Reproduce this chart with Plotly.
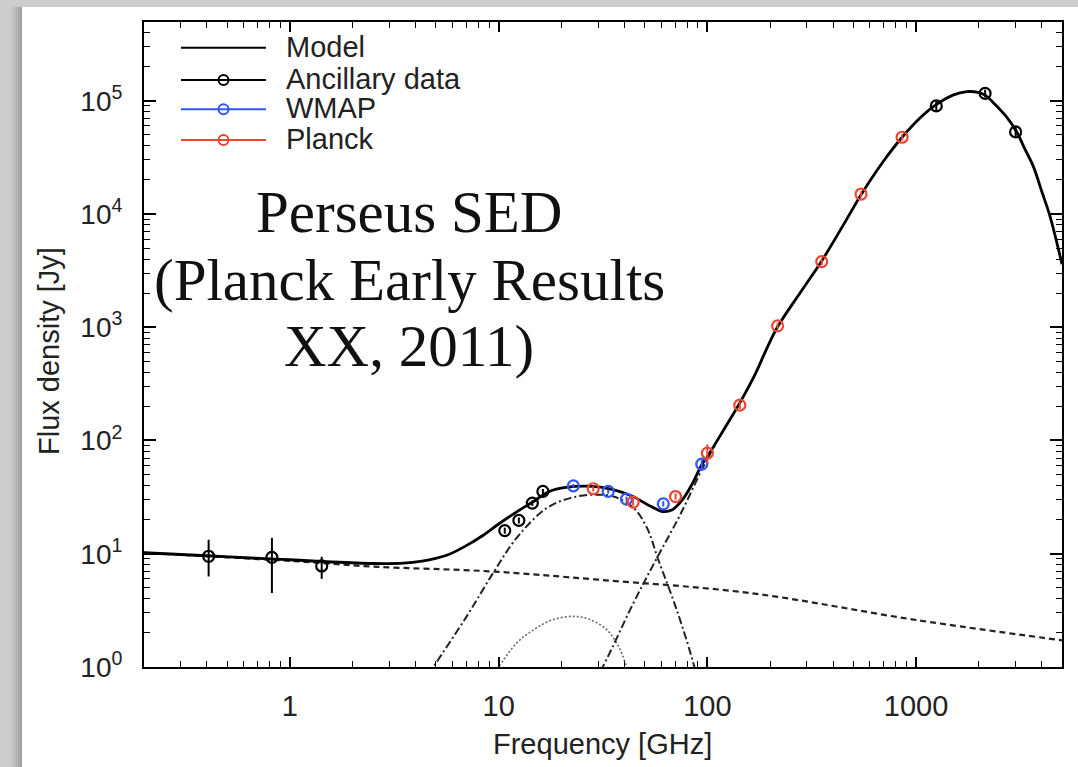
import numpy as np
import plotly.graph_objects as go

# ---------------- data ----------------
anc_freq = [0.408, 0.82, 1.42, 10.7, 12.5, 14.5, 16.3, 1249, 2141, 2998]
anc_flux = [9.5, 9.3, 7.8, 16.0, 19.7, 28.0, 35.5, 90000, 116000, 53000]
anc_err_up = [3.8, 4.5, 1.6, 1.0, 1.2, 1.5, 1.8, 9000, 9000, 6000]
anc_err_dn = [3.2, 4.8, 1.8, 1.0, 1.2, 1.5, 1.8, 9000, 9000, 6000]

wmap_freq = [22.8, 33.5, 41.0, 61.5, 94.0]
wmap_flux = [39.8, 35.5, 30.4, 27.6, 61.9]
wmap_err = [1.5, 1.5, 1.5, 1.5, 6.0]

planck_freq = [28.4, 44.1, 70.4, 100, 143, 217, 353, 545, 857]
planck_flux = [37.5, 28.6, 32.0, 77.4, 205, 1029, 3800, 15000, 47600]
planck_err = [2, 2, 2, 15, 15, 60, 250, 900, 3000]

model_freq = [0.2, 0.4, 0.8, 1.0, 1.5, 2.5, 3.5, 4.3, 5.0, 5.8, 7.0, 8.4, 10, 12.1, 14.5, 17.5,
              21, 27, 35, 44, 52, 61, 68, 76, 85, 94, 100, 120, 143, 170, 192, 217,
              280, 353, 450, 545, 700, 857, 1050, 1210, 1500, 1750, 2000, 2141, 2400,
              2700, 3040, 3300, 3648, 4000, 4385, 5000]
model_flux = [10.2, 9.6, 9.0, 8.85, 8.5, 8.2, 8.25, 8.6, 9.1, 9.9, 11.8, 14.5, 18.3, 23.2, 28.5, 35.5,
              38.5, 39.5, 37, 32, 27, 23.6, 24.5, 30, 42, 61, 72, 125, 215, 390, 640, 1010,
              2050, 3850, 8100, 14800, 29500, 47600, 71000, 88700, 112000, 120300, 118000,
              112000, 92000, 72600, 52700, 38300, 26200, 15800, 9490, 3600]

ff_freq = [0.2, 0.5, 1, 2.5, 9, 30, 160, 1000, 5000]
ff_flux = [10.2, 9.3, 8.65, 7.7, 7.0, 5.9, 4.5, 2.6, 1.72]

ame_freq = [4.2, 4.87, 7.03, 9.43, 12.2, 17.0, 22, 28.4, 35.5, 44.2, 51.3, 58.2, 71.3, 85.7, 95]
ame_flux = [0.65, 1.0, 2.8, 6.8, 13.8, 25.3, 31, 33.2, 32, 25.5, 17, 8.85, 3.2, 1.08, 0.5]

ame2_freq = [9.0, 9.97, 12.2, 14.7, 18, 22.8, 27, 33.0, 38.2, 41.1, 44]
ame2_flux = [0.8, 1.0, 1.63, 2.13, 2.6, 2.8, 2.65, 2.13, 1.42, 1.0, 0.75]

dust_freq = [28, 31.5, 44, 57, 74, 94, 110]
dust_flux = [0.7, 1.0, 3.6, 9.0, 22, 55, 95]

legend_names = ["Model", "Ancillary data", "WMAP", "Planck"]
x_tick_vals = [1, 10, 100, 1000]
x_tick_text = ["1", "10", "100", "1000"]
y_tick_vals = [1, 10, 100, 1000, 1e4, 1e5]
y_tick_text = ["10<sup>0</sup>", "10<sup>1</sup>", "10<sup>2</sup>", "10<sup>3</sup>",
               "10<sup>4</sup>", "10<sup>5</sup>"]
title_lines = ["Perseus SED", "(Planck Early Results", "XX, 2011)"]

# ---------------- layout geometry ----------------
W, H = 1078, 767
L, R, T, B = 144, 16, 22, 100
PW, PH = W - L - R, H - T - B


def px(xp):
    return (xp - L) / PW


def py(yp):
    return (H - B - yp) / PH


BLUE = "#2f55ff"
RED = "#ee4530"
SANS = "Liberation Sans, Arial, sans-serif"
SERIF = "Liberation Serif, Times New Roman, serif"

fig = go.Figure()

# model components
fig.add_trace(go.Scatter(x=ff_freq, y=ff_flux, mode="lines", showlegend=False, hoverinfo="skip",
                         line=dict(color="#222222", width=2.2, dash="6px,4px", shape="spline")))
fig.add_trace(go.Scatter(x=ame_freq, y=ame_flux, mode="lines", showlegend=False, hoverinfo="skip",
                         line=dict(color="#222222", width=2, dash="8px,3px,2px,3px", shape="spline")))
fig.add_trace(go.Scatter(x=ame2_freq, y=ame2_flux, mode="lines", showlegend=False, hoverinfo="skip",
                         line=dict(color="#666666", width=1.6, dash="2px,2px", shape="spline")))
fig.add_trace(go.Scatter(x=dust_freq, y=dust_flux, mode="lines", showlegend=False, hoverinfo="skip",
                         line=dict(color="#222222", width=2, dash="8px,3px,2px,3px", shape="spline")))
fig.add_trace(go.Scatter(x=model_freq, y=model_flux, mode="lines", showlegend=False, hoverinfo="skip",
                         line=dict(color="black", width=2.8, shape="spline", smoothing=1.0)))


def data_trace(x, y, up, dn, color):
    return go.Scatter(
        x=x, y=y, mode="markers", showlegend=False,
        marker=dict(symbol="circle-open", size=11, color=color, line=dict(width=2.2, color=color)),
        error_y=dict(type="data", symmetric=False, array=up, arrayminus=dn,
                     color=color, thickness=2, width=0))


fig.add_trace(data_trace(anc_freq, anc_flux, anc_err_up, anc_err_dn, "black"))
fig.add_trace(data_trace(wmap_freq, wmap_flux, wmap_err, wmap_err, BLUE))
fig.add_trace(data_trace(planck_freq, planck_flux, planck_err, planck_err, RED))

shapes = []
# page background: grey frame, white card with soft left shadow
shade = ["#cbcbcb", "#c4c4c4", "#bcbcbc", "#b3b3b3", "#aaaaaa", "#a2a2a2"]
for i, c in enumerate(shade):
    shapes.append(dict(type="rect", xref="paper", yref="paper", layer="below",
                       x0=px(10 + 2 * i), x1=px(12 + 2 * i), y0=py(H + 5), y1=py(7),
                       fillcolor=c, line=dict(width=0)))
shapes.append(dict(type="rect", xref="paper", yref="paper", layer="below",
                   x0=px(22), x1=px(W + 5), y0=py(H + 5), y1=py(7),
                   fillcolor="white", line=dict(width=0)))

annotations = []
# custom legend
leg_rows = [47.7, 80, 109.3, 140]
leg_colors = ["black", "black", BLUE, RED]
for i, (name, col, yr) in enumerate(zip(legend_names, leg_colors, leg_rows)):
    shapes.append(dict(type="line", xref="paper", yref="paper", x0=px(181), x1=px(266),
                       y0=py(yr), y1=py(yr), line=dict(color=col, width=2)))
    if i > 0:
        shapes.append(dict(type="circle", xref="paper", yref="paper", x0=px(218.5), x1=px(228.5),
                           y0=py(yr + 5), y1=py(yr - 5), line=dict(color=col, width=2)))
    annotations.append(dict(text=name, xref="paper", yref="paper", x=px(284), y=py(yr - 1),
                            xanchor="left", yanchor="middle", showarrow=False,
                            font=dict(family=SANS, size=29, color="#222222")))

# chart caption text
for line, yc in zip(title_lines, [212, 280, 346]):
    annotations.append(dict(text=line, xref="paper", yref="paper", x=px(409), y=py(yc),
                            xanchor="center", yanchor="middle", showarrow=False,
                            font=dict(family=SERIF, size=59, color="#111111")))

# axis titles
annotations.append(dict(text="Frequency [GHz]", xref="paper", yref="paper", x=px(602), y=py(744),
                        xanchor="center", yanchor="middle", showarrow=False,
                        font=dict(family=SANS, size=29, color="#222222")))
annotations.append(dict(text="Flux density [Jy]", xref="paper", yref="paper", x=px(49), y=py(351),
                        xanchor="center", yanchor="middle", showarrow=False, textangle=-90,
                        font=dict(family=SANS, size=29, color="#222222")))

x_minor = [m * 10 ** e for e in range(-1, 4) for m in range(2, 10)]
y_minor = [m * 10 ** e for e in range(0, 6) for m in range(2, 10)]

fig.update_layout(
    width=W, height=H,
    margin=dict(l=L, r=R, t=T, b=B, autoexpand=False),
    paper_bgcolor="#cdcdcd", plot_bgcolor="white",
    showlegend=False,
    shapes=shapes, annotations=annotations,
    xaxis=dict(type="log", range=[np.log10(0.2), np.log10(5000)],
               tickvals=x_tick_vals, ticktext=x_tick_text,
               ticks="inside", ticklen=10, tickwidth=1.5, tickcolor="black",
               showline=True, linewidth=2, linecolor="black", mirror="allticks",
               showgrid=False, zeroline=False, ticklabelstandoff=12,
               tickfont=dict(family=SANS, size=29, color="#222222"),
               minor=dict(tickvals=x_minor, ticks="inside", ticklen=6, tickwidth=1.2,
                          tickcolor="black", showgrid=False)),
    yaxis=dict(type="log", range=[0, 5.695],
               tickvals=y_tick_vals, ticktext=y_tick_text,
               ticks="inside", ticklen=12, tickwidth=1.5, tickcolor="black",
               showline=True, linewidth=2, linecolor="black", mirror="allticks",
               showgrid=False, zeroline=False, ticklabelstandoff=14,
               tickfont=dict(family=SANS, size=28, color="#222222"),
               minor=dict(tickvals=y_minor, ticks="inside", ticklen=6, tickwidth=1.2,
                          tickcolor="black", showgrid=False)),
)

fig.write_html("out.html")
